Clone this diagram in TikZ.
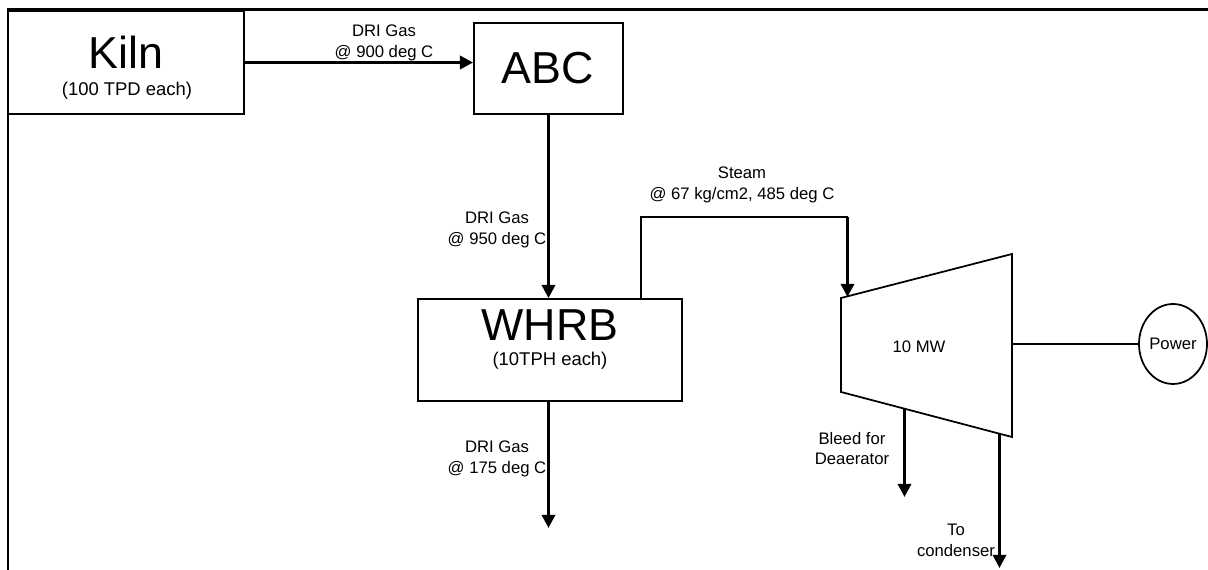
\documentclass[tikz,border=0pt]{standalone}
\usepackage{fontspec}
\setmainfont{Liberation Sans}
\usetikzlibrary{arrows.meta,shapes.geometric}
\begin{document}
\begin{tikzpicture}[x=0.02cm,y=-0.02cm,
  box/.style={draw, line width=1pt, inner sep=0pt},
  big/.style={font=\fontsize{25.5}{30}\selectfont, inner sep=0pt},
  sub/.style={font=\fontsize{10.5}{12}\selectfont, inner sep=0pt},
  lbl/.style={font=\fontsize{9.5}{11.9}\selectfont, align=center, inner sep=0pt},
  flow/.style={line width=1.7pt, -{Triangle[length=7.5pt,width=7.5pt]}},
  thinline/.style={line width=1pt},
  frameline/.style={line width=1.7pt}]
\useasboundingbox (0,0) rectangle (1208,570);
% frame
\draw[frameline] (1208,10) -- (8,10) -- (8,570);
% boxes
\node[box, minimum width=4.72cm, minimum height=2.06cm] (kiln) at (126,62.5) {};
\node[big] (kilnt) at (126,52) {Kiln};
\node[sub] (kilns) at (127,91) {(100 TPD each)};
\node[box, minimum width=2.98cm, minimum height=1.82cm] (abc) at (548.5,68.5) {};
\node[big] (abct) at (548,68) {ABC};
\node[box, minimum width=5.28cm, minimum height=2.04cm] (whrb) at (550,350) {};
\node[big] (whrbt) at (550,325) {WHRB};
\node[sub] (whrbs) at (550,361) {(10TPH each)};
\node[box, ellipse, minimum width=1.36cm, minimum height=1.6cm] (power) at (1173,344) {};
\node[lbl] (powert) at (1173,344) {Power};
% turbine
\coordinate (t1) at (841,298);
\coordinate (t2) at (1012,254);
\coordinate (t3) at (1012,437);
\coordinate (t4) at (841,392);
\draw[thinline] (t1) -- (t2) -- (t3) -- (t4) -- cycle;
\node[lbl] (mw) at (919,347) {10 MW};
% flows
\draw[flow] (kiln.east) -- (kiln.east -| abc.west);
\node[lbl] (l900) at (384,42.5) {DRI Gas\\@ 900 deg C};
\draw[flow] (abc.south) -- (abc.south |- whrb.north);
\node[lbl] (l950) at (497,229.5) {DRI Gas\\@ 950 deg C};
\coordinate (gasout) at (548.5,528);
\draw[flow] (whrb.south -| gasout) -- (gasout);
\node[lbl] (l175) at (497,459) {DRI Gas\\@ 175 deg C};
% steam
\coordinate (s1) at (641,217);
\coordinate (s2) at (847.5,217);
\coordinate (tin) at (847.5,297);
\draw[thinline] (whrb.north -| s1) -- (s1) -- (s2);
\draw[flow] (s2) -- (tin);
\node[lbl] (lsteam) at (742,184.5) {Steam\\@ 67 kg/cm2, 485 deg C};
% power
\coordinate (tout) at (1012,344);
\draw[thinline] (tout) -- (power.west);
% bleed
\coordinate (bl) at (904.5,408.6);
\coordinate (blend) at (904.5,497);
\draw[flow] (bl) -- (blend);
\node[lbl] (lbleed) at (852,448.5) {Bleed for\\Deaerator};
% condenser
\coordinate (cd) at (999.5,433.6);
\coordinate (cdend) at (999.5,568);
\draw[flow] (cd) -- (cdend);
\node[lbl] (lcond) at (956,540) {To\\condenser};
\end{tikzpicture}
\end{document}
